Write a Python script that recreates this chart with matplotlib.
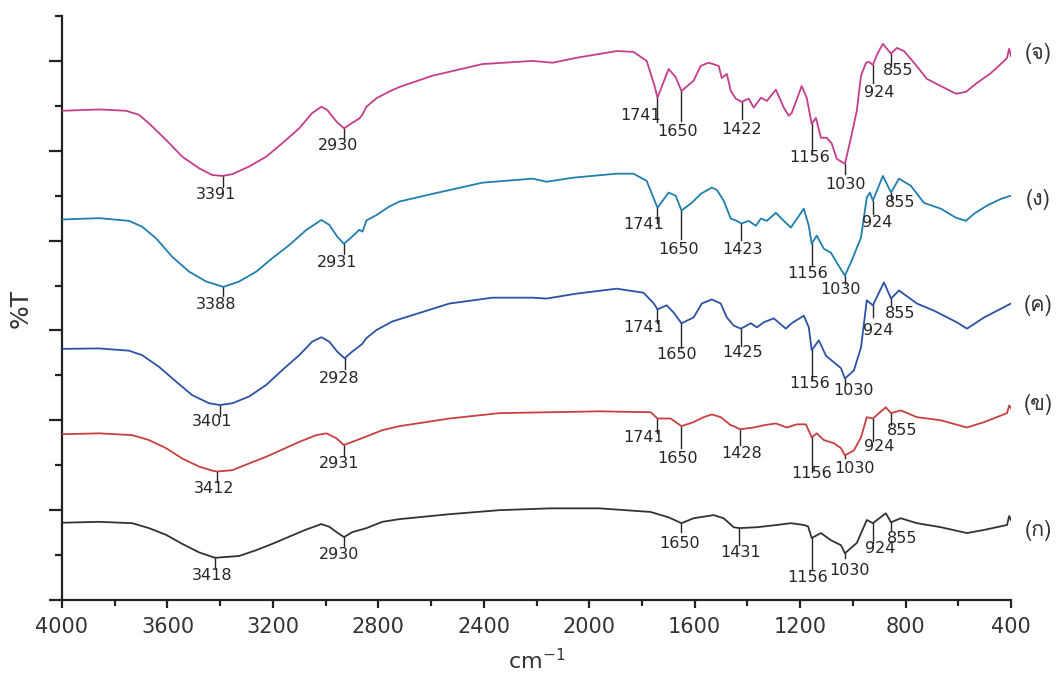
import numpy as np
import matplotlib
matplotlib.use("Agg")
import matplotlib.pyplot as plt
from matplotlib import font_manager as fm
from matplotlib.ft2font import FT2Font

# ---------------- data (wavenumber cm^-1, %T offset units) ----------------
wn_E = [4000, 3859, 3757, 3708, 3670, 3605, 3544, 3480, 3430, 3391, 3354, 3290, 3225, 3164, 3100,
        3051, 3016, 2994, 2959, 2930, 2902, 2872, 2861, 2845, 2807, 2758, 2720, 2595, 2405, 2215,
        2139, 2048, 1896, 1832, 1782, 1752, 1741, 1699, 1672, 1650, 1604, 1577, 1547, 1509, 1497,
        1478, 1463, 1444, 1422, 1395, 1376, 1349, 1326, 1292, 1262, 1243, 1232, 1194, 1175, 1156,
        1140, 1121, 1099, 1080, 1061, 1030, 1007, 985, 969, 958, 950, 939, 924, 905, 886, 855, 833,
        806, 768, 719, 666, 609, 571, 529, 476, 426, 415, 407, 400]
t_E = [108.9, 109.2, 108.9, 108.0, 106.1, 102.4, 98.7, 96.1, 94.6, 94.4, 94.8, 96.5, 98.7, 101.7, 105.0,
       108.4, 109.8, 109.1, 106.5, 105.0, 106.1, 107.2, 108.0, 109.8, 111.7, 113.2, 114.2, 116.7, 119.3, 120.0,
       119.6, 120.7, 122.2, 122.0, 120.0, 114.4, 111.8, 118.2, 116.4, 113.3, 115.6, 118.9, 119.6, 118.9, 116.2,
       117.1, 113.3, 111.6, 110.9, 111.6, 109.6, 111.8, 111.1, 113.6, 109.6, 107.8, 108.4, 114.4, 111.8, 106.0,
       107.3, 102.9, 102.9, 101.6, 98.2, 97.1, 102.9, 108.9, 116.7, 118.4, 119.6, 119.8, 119.1, 121.8, 123.8,
       121.6, 122.9, 122.2, 119.6, 116.0, 114.4, 112.7, 113.1, 115.1, 117.3, 120.0, 120.7, 122.7, 121.1]

wn_D = [4000, 3859, 3746, 3696, 3643, 3582, 3518, 3453, 3388, 3328, 3263, 3202, 3138, 3073, 3016,
        2986, 2956, 2931, 2899, 2872, 2860, 2845, 2807, 2758, 2720, 2595, 2405, 2215, 2162, 2063,
        1896, 1832, 1782, 1752, 1741, 1699, 1672, 1650, 1611, 1577, 1535, 1516, 1490, 1463, 1440,
        1423, 1395, 1368, 1349, 1326, 1292, 1262, 1235, 1186, 1167, 1156, 1137, 1110, 1083, 1061,
        1030, 1004, 969, 947, 935, 924, 886, 855, 825, 780, 730, 666, 609, 571, 540, 491, 438, 400]
t_D = [84.7, 85.0, 84.4, 83.1, 80.5, 76.4, 73.1, 70.9, 69.7, 70.9, 73.1, 76.1, 79.0, 82.4, 84.6,
       83.5, 80.9, 79.3, 80.9, 82.4, 82.0, 84.5, 85.7, 87.6, 88.7, 90.4, 92.9, 93.8, 93.1, 94.0,
       94.9, 94.9, 93.3, 88.9, 87.3, 90.7, 90.0, 86.7, 88.4, 90.4, 91.8, 91.3, 88.9, 84.9, 84.4,
       83.8, 84.4, 83.3, 84.9, 84.4, 86.2, 84.4, 82.9, 87.1, 83.3, 79.3, 81.1, 78.2, 77.3, 75.1,
       72.2, 75.6, 80.7, 89.6, 90.7, 88.9, 94.4, 90.7, 93.8, 92.2, 88.4, 87.1, 85.1, 84.4, 86.0, 87.8, 89.3, 90.0]

wn_C = [4000, 3859, 3746, 3696, 3632, 3567, 3506, 3442, 3401, 3354, 3290, 3225, 3164, 3100, 3051,
        3016, 2986, 2956, 2928, 2899, 2861, 2845, 2807, 2747, 2530, 2367, 2215, 2162, 2048, 1896,
        1794, 1755, 1741, 1706, 1680, 1650, 1604, 1573, 1535, 1501, 1478, 1452, 1425, 1387, 1364,
        1338, 1300, 1254, 1232, 1186, 1167, 1156, 1129, 1102, 1080, 1045, 1030, 996, 969, 947, 924,
        882, 855, 825, 757, 692, 605, 567, 502, 400]
t_C = [55.9, 56.0, 55.5, 54.5, 51.9, 48.6, 45.6, 43.8, 43.4, 43.8, 45.3, 47.9, 51.2, 54.5, 57.5,
       58.5, 57.5, 55.3, 53.8, 55.3, 57.0, 58.3, 60.1, 62.0, 66.0, 67.3, 67.3, 67.1, 68.2, 69.3,
       68.4, 66.0, 64.7, 65.6, 64.0, 61.6, 62.9, 66.0, 66.9, 66.0, 62.9, 61.1, 60.4, 61.6, 60.7,
       61.8, 62.7, 60.4, 61.6, 63.3, 60.7, 55.6, 57.8, 54.4, 53.3, 51.6, 49.3, 51.1, 56.2, 66.7, 65.6,
       70.7, 67.1, 68.9, 66.0, 64.4, 61.8, 60.4, 62.9, 66.0]

wn_B = [4000, 3859, 3734, 3670, 3605, 3544, 3480, 3430, 3412, 3354, 3290, 3225, 3164, 3100, 3035,
        2997, 2959, 2931, 2899, 2845, 2785, 2720, 2530, 2340, 2150, 1961, 1767, 1741, 1691, 1650,
        1604, 1566, 1535, 1501, 1463, 1452, 1428, 1376, 1338, 1292, 1250, 1213, 1178, 1156, 1137,
        1110, 1072, 1045, 1030, 996, 969, 947, 924, 875, 855, 818, 757, 666, 567, 502, 415, 407, 400]
t_B = [36.9, 37.1, 36.7, 35.6, 33.8, 31.5, 29.7, 28.8, 28.6, 28.9, 30.4, 31.9, 33.5, 35.2, 36.7,
       37.1, 36.0, 34.5, 35.2, 36.4, 37.8, 38.7, 40.4, 41.6, 41.8, 42.0, 41.8, 40.4, 40.4, 38.7,
       39.6, 40.7, 41.3, 40.7, 38.9, 38.7, 38.0, 38.4, 38.9, 39.3, 38.4, 39.1, 39.1, 36.2, 37.1,
       35.6, 34.9, 33.8, 32.2, 33.3, 36.2, 40.7, 40.4, 42.9, 41.6, 42.2, 40.7, 40.0, 38.4, 39.6, 41.6, 43.3, 42.7]

wn_A = [4000, 3859, 3734, 3670, 3605, 3544, 3480, 3430, 3418, 3328, 3263, 3202, 3138, 3073, 3016,
        2986, 2956, 2930, 2899, 2845, 2785, 2720, 2530, 2340, 2150, 1961, 1767, 1699, 1650, 1604,
        1528, 1490, 1452, 1431, 1364, 1288, 1235, 1186, 1170, 1156, 1121, 1083, 1045, 1030, 985, 947,
        924, 875, 855, 818, 757, 666, 567, 502, 415, 407, 400]
t_A = [17.2, 17.4, 17.1, 16.0, 14.5, 12.5, 10.6, 9.6, 9.4, 9.8, 11.1, 12.5, 14.1, 15.7, 16.9,
       16.3, 15.0, 14.0, 15.1, 16.0, 17.4, 18.0, 19.1, 20.0, 20.4, 20.4, 19.6, 18.4, 17.1, 18.2,
       18.9, 18.2, 16.2, 16.0, 16.2, 16.7, 17.1, 16.7, 16.4, 13.8, 14.9, 13.3, 12.2, 10.4, 12.7, 17.8,
       17.1, 19.3, 17.3, 18.2, 17.1, 16.2, 14.9, 15.6, 16.7, 18.7, 17.8]

peaks_E = [3391, 2930, 1741, 1650, 1422, 1156, 1030, 924, 855]
peaks_D = [3388, 2931, 1741, 1650, 1423, 1156, 1030, 924, 855]
peaks_C = [3401, 2928, 1741, 1650, 1425, 1156, 1030, 924, 855]
peaks_B = [3412, 2931, 1741, 1650, 1428, 1156, 1030, 924, 855]
peaks_A = [3418, 2930, 1650, 1431, 1156, 1030, 924, 855]

sample_labels = ["(จ)", "(ง)", "(ค)", "(ข)", "(ก)"]
x_ticks = [4000, 3600, 3200, 2800, 2400, 2000, 1600, 1200, 800, 400]

# ---------------- layout / style (pixels) ----------------
# per annotation: (tick length px, text dx px, text dy px below curve point)
ann_E = [(11, -7, 19), (10, -6, 17), (24, -17, 18), (30, -4, 40), (17, 0, 28), (29, -2, 34), (10, 1, 21), (18, 6, 28), (12, 7, 17)]
ann_D = [(9, -7, 18), (10, -7, 19), (15, -14, 17), (28, -3, 39), (16, 1, 26), (22, -4, 30), (8, -4, 14), (13, 4, 22), (8, 9, 10)]
ann_C = [(11, -8, 16), (11, -5, 20), (14, -14, 18), (25, -5, 31), (17, 2, 24), (30, -2, 33), (5, 9, 12), (12, 5, 25), (7, 9, 15)]
ann_B = [(10, -3, 17), (11, -5, 18), (14, -14, 19), (22, -4, 32), (16, 2, 24), (35, 0, 36), (3, 10, 13), (22, 6, 28), (12, 11, 17)]
ann_A = [(9, -3, 18), (9, -5, 17), (9, -2, 20), (17, 1, 24), (32, -4, 39), (5, 5, 17), (20, 7, 25), (8, 11, 16)]
label_offsets = [(27, 2), (27, -4), (27, -2), (27, 4), (27, -10)]

colors = ["#c63d8c", "#1f7fae", "#2c52a6", "#c8403f", "#333333"]


def thai_family():
    want = "จงคขก"
    seen = set()
    for f in fm.fontManager.ttflist:
        if f.fname in seen:
            continue
        seen.add(f.fname)
        try:
            cmap = FT2Font(f.fname).get_charmap()
            if all(ord(c) in cmap for c in want):
                return f.name
        except Exception:
            continue
    return None


thai = thai_family()
thai_fam = [thai, "DejaVu Sans"] if thai else ["DejaVu Sans"]

W, H = 1058, 677
fig = plt.figure(figsize=(W / 100, H / 100), dpi=100)
L, R, B, T = 62, 1011, 600, 16
ax = fig.add_axes([L / W, (H - B) / H, (R - L) / W, (B - T) / H])
ax.set_xlim(4000, 400)
ax.set_ylim(0, 130)
ppu = (B - T) / 130.0

series = [(wn_E, t_E, peaks_E, ann_E), (wn_D, t_D, peaks_D, ann_D), (wn_C, t_C, peaks_C, ann_C),
          (wn_B, t_B, peaks_B, ann_B), (wn_A, t_A, peaks_A, ann_A)]

txtcol = "#262626"
for (wn, tt, pk, ann), col, lab, loff in zip(series, colors, sample_labels, label_offsets):
    ax.plot(wn, tt, color=col, lw=1.3, zorder=3, solid_joinstyle="round")
    wn_r = np.array(wn[::-1], dtype=float)
    tt_r = np.array(tt[::-1], dtype=float)
    for p, (ln, dx, dy) in zip(pk, ann):
        v = float(np.interp(p, wn_r, tt_r))
        ax.plot([p, p], [v, v - ln / ppu], color=txtcol, lw=1.0, zorder=2)
        ax.annotate(str(p), xy=(p, v), xytext=(dx, -dy), textcoords="offset pixels",
                    ha="center", va="center", fontsize=11.5, color=txtcol,
                    family="DejaVu Sans", zorder=4)
    ax.annotate(lab, xy=(wn[-1], tt[-1]), xytext=loff, textcoords="offset pixels",
                ha="center", va="center", fontsize=15.5, color="#333333",
                family=thai_fam, annotation_clip=False)

for s in ["top", "right"]:
    ax.spines[s].set_visible(False)
for s in ["left", "bottom"]:
    ax.spines[s].set_linewidth(1.6)
    ax.spines[s].set_color("#222222")

ax.set_xticks(x_ticks)
ax.set_xticklabels([str(v) for v in x_ticks], fontsize=15, color="#333333", family="DejaVu Sans")
ax.set_xticks(np.arange(400, 4001, 200), minor=True)
ax.tick_params(axis="x", which="major", direction="out", length=6, width=1.6, color="#222222", pad=6)
ax.tick_params(axis="x", which="minor", direction="out", length=4.3, width=1.6, color="#222222")

ax.set_yticks(np.arange(0, 121, 20))
ax.set_yticks(np.arange(10, 131, 20), minor=True)
ax.set_yticklabels([])
ax.tick_params(axis="y", which="major", direction="out", length=9.5, width=1.6, color="#222222")
ax.tick_params(axis="y", which="minor", direction="out", length=5, width=1.6, color="#222222")

ax.set_xlabel("cm$^{-1}$", fontsize=16, color="#333333", labelpad=8)
ax.set_ylabel("%T", fontsize=18, color="#333333")
ax.yaxis.set_label_coords(-0.031, 0.5)

fig.savefig("out.png", dpi=100)
